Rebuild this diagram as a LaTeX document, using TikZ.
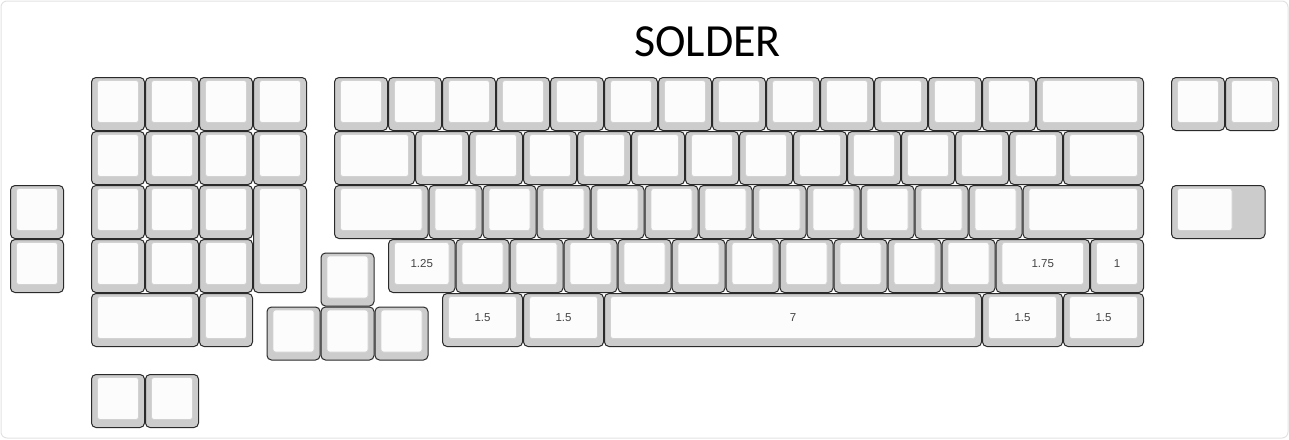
\documentclass[tikz,border=0pt]{standalone}
\usepackage{fontspec}
\newfontfamily\titlefont{Carlito}
\newfontfamily\labelfont{Liberation Sans}
\definecolor{capside}{HTML}{CCCCCC}
\definecolor{captop}{HTML}{FCFCFC}
\definecolor{capedge}{HTML}{2A2A2A}
\definecolor{topedge}{HTML}{D2D2D2}
\definecolor{frame}{HTML}{E2E2E2}
\definecolor{labelgray}{HTML}{444444}
\tikzset{
  keycap/.style={draw=capedge, fill=capside, line width=1pt, rounded corners=4.5pt, anchor=north west, inner sep=0pt, outer sep=0pt},
  keytop/.style={draw=topedge, fill=captop, line width=0.8pt, rounded corners=2.5pt, anchor=north west, inner sep=0pt, outer sep=0pt, font=\labelfont\fontsize{11.5}{12}\selectfont, text=labelgray, align=center},
}
% \kc{name}{ux}{uy}{w}{h}{label}
\newcommand\kc[6]{%
  \pgfmathsetmacro\kcX{10+54*#2}%
  \pgfmathsetmacro\kcY{77+54*#3}%
  \pgfmathsetmacro\kcW{54*#4-1}%
  \pgfmathsetmacro\kcH{54*#5-1}%
  \pgfmathsetmacro\kcIW{54*#4-13}%
  \pgfmathsetmacro\kcIH{54*#5-12}%
  \node[keycap, minimum width=\kcW pt, minimum height=\kcH pt] (#1) at (\kcX+0.5,\kcY+0.5) {};
  \node[keytop, minimum width=\kcIW pt, minimum height=\kcIH pt] (#1t) at (\kcX+6.5,\kcY+3.5) {#6};
}
% stepped key: \kcstep{name}{ux}{uy}{outer w}{top w}
\newcommand\kcstep[5]{%
  \pgfmathsetmacro\kcX{10+54*#2}%
  \pgfmathsetmacro\kcY{77+54*#3}%
  \pgfmathsetmacro\kcW{54*#4-1}%
  \pgfmathsetmacro\kcIW{54*#5-13}%
  \node[keycap, minimum width=\kcW pt, minimum height=53pt] (#1) at (\kcX+0.5,\kcY+0.5) {};
  \node[keytop, minimum width=\kcIW pt, minimum height=42pt] (#1t) at (\kcX+6.5,\kcY+3.5) {};
}
\begin{document}
\begin{tikzpicture}[x=1pt,y=-1pt]
\useasboundingbox (0,0) rectangle (1289,439);
\draw[frame, line width=1pt, rounded corners=6pt] (1,1) rectangle (1288,438);
\node[font=\titlefont\fontsize{46}{50}\selectfont, anchor=base, inner sep=0pt] (title) at (707.5,56.7) {SOLDER};
% left column
\kc{la}{0}{2}{1}{1}{}
\kc{lb}{0}{3}{1}{1}{}
% block A
\foreach \ux [count=\n] in {1.5,2.5,3.5,4.5} {
  \kc{aa\n}{\ux}{0}{1}{1}{}
  \kc{ab\n}{\ux}{1}{1}{1}{}
}
\foreach \ux [count=\n] in {1.5,2.5,3.5} {
  \kc{ac\n}{\ux}{2}{1}{1}{}
  \kc{ad\n}{\ux}{3}{1}{1}{}
}
\kc{atall}{4.5}{2}{1}{2}{}
\kc{aewide}{1.5}{4}{2}{1}{}
\kc{ae2}{3.5}{4}{1}{1}{}
\kc{af1}{1.5}{5.5}{1}{1}{}
\kc{af2}{2.5}{5.5}{1}{1}{}
% arrows
\kc{up}{5.75}{3.25}{1}{1}{}
\kc{left}{4.75}{4.25}{1}{1}{}
\kc{down}{5.75}{4.25}{1}{1}{}
\kc{right}{6.75}{4.25}{1}{1}{}
% main row 0
\foreach \ux [count=\n] in {6,7,8,9,10,11,12,13,14,15,16,17,18} {
  \kc{ma\n}{\ux}{0}{1}{1}{}
}
\kc{maend}{19}{0}{2}{1}{}
% main row 1
\kc{mbstart}{6}{1}{1.5}{1}{}
\foreach \ux [count=\n] in {7.5,8.5,9.5,10.5,11.5,12.5,13.5,14.5,15.5,16.5,17.5,18.5} {
  \kc{mb\n}{\ux}{1}{1}{1}{}
}
\kc{mbend}{19.5}{1}{1.5}{1}{}
% main row 2
\kc{mcstart}{6}{2}{1.75}{1}{}
\foreach \ux [count=\n] in {7.75,8.75,9.75,10.75,11.75,12.75,13.75,14.75,15.75,16.75,17.75} {
  \kc{mc\n}{\ux}{2}{1}{1}{}
}
\kc{mcend}{18.75}{2}{2.25}{1}{}
% main row 3
\kc{mdstart}{7}{3}{1.25}{1}{1.25}
\foreach \ux [count=\n] in {8.25,9.25,10.25,11.25,12.25,13.25,14.25,15.25,16.25,17.25} {
  \kc{md\n}{\ux}{3}{1}{1}{}
}
\kc{mdshift}{18.25}{3}{1.75}{1}{1.75}
\kc{mdend}{20}{3}{1}{1}{1}
% main row 4
\kc{me1}{8}{4}{1.5}{1}{1.5}
\kc{me2}{9.5}{4}{1.5}{1}{1.5}
\kc{mespace}{11}{4}{7}{1}{7}
\kc{me3}{18}{4}{1.5}{1}{1.5}
\kc{me4}{19.5}{4}{1.5}{1}{1.5}
% right
\kc{ra1}{21.5}{0}{1}{1}{}
\kc{ra2}{22.5}{0}{1}{1}{}
\kcstep{rstep}{21.5}{2}{1.75}{1.25}
\end{tikzpicture}
\end{document}
